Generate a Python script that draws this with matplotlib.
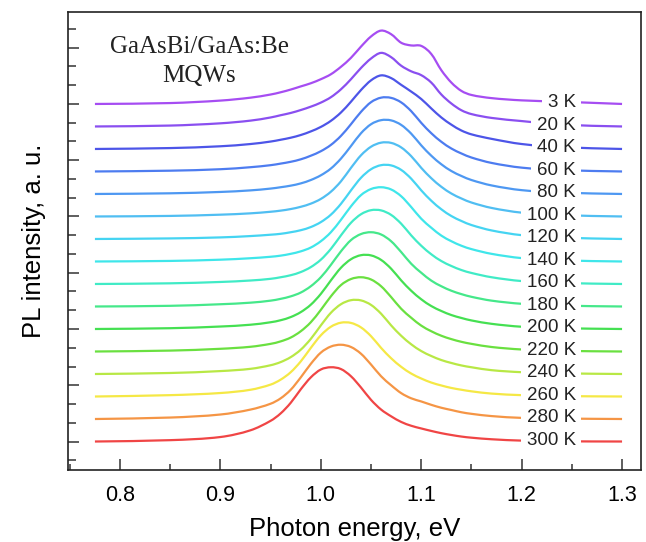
import matplotlib.pyplot as plt
from matplotlib.ticker import MultipleLocator, FormatStrFormatter
from matplotlib.path import Path
from matplotlib.patches import PathPatch

plt.rcParams['font.family'] = ['Liberation Sans', 'DejaVu Sans']

energy = [0.775, 0.85, 0.90, 0.93, 0.95, 0.96, 0.97, 0.98, 0.99, 1.00,
          1.01, 1.02, 1.03, 1.04, 1.05, 1.06, 1.07, 1.08, 1.09, 1.10,
          1.11, 1.12, 1.13, 1.14, 1.15, 1.17, 1.20, 1.24, 1.30]

temperatures = ['3 K', '20 K', '40 K', '60 K', '80 K', '100 K', '120 K', '140 K',
                '160 K', '180 K', '200 K', '220 K', '240 K', '260 K', '280 K', '300 K']

# PL intensity above each curve's own baseline (in units of the vertical shift)
pl_3k = [0.0, 0.04, 0.15, 0.28, 0.42, 0.52, 0.64, 0.78, 0.92, 1.10, 1.32, 1.65, 2.05, 2.55, 3.00,
         3.26, 3.10, 2.72, 2.60, 2.58, 2.22, 1.50, 0.95, 0.58, 0.40, 0.26, 0.16, 0.10, 0.0]
pl_20k = [0.0, 0.04, 0.14, 0.26, 0.40, 0.50, 0.60, 0.73, 0.88, 1.06, 1.30, 1.65, 2.10, 2.60, 3.02,
          3.27, 3.08, 2.70, 2.45, 2.28, 1.95, 1.42, 1.02, 0.72, 0.55, 0.38, 0.24, 0.08, 0.0]
pl_40k = [0.0, 0.04, 0.12, 0.22, 0.33, 0.41, 0.50, 0.62, 0.78, 0.98, 1.25, 1.62, 2.10, 2.62, 3.05,
          3.27, 3.15, 2.85, 2.55, 2.22, 1.80, 1.40, 1.08, 0.82, 0.65, 0.45, 0.22, 0.08, 0.0]
pl_60k = [0.0, 0.035, 0.10, 0.19, 0.28, 0.35, 0.43, 0.54, 0.70, 0.90, 1.18, 1.58, 2.10, 2.65, 3.08,
          3.28, 3.27, 3.07, 2.68, 2.16, 1.70, 1.32, 1.02, 0.80, 0.62, 0.38, 0.17, 0.06, 0.0]
pl_80k = [0.0, 0.03, 0.09, 0.16, 0.24, 0.30, 0.37, 0.47, 0.62, 0.83, 1.13, 1.57, 2.13, 2.70, 3.10,
          3.28, 3.27, 3.07, 2.68, 2.16, 1.70, 1.32, 1.02, 0.80, 0.62, 0.38, 0.17, 0.06, 0.0]
pl_100k = [0.0, 0.025, 0.08, 0.14, 0.21, 0.26, 0.33, 0.43, 0.57, 0.78, 1.10, 1.56, 2.16, 2.72, 3.10,
           3.28, 3.27, 3.07, 2.68, 2.16, 1.70, 1.32, 1.02, 0.80, 0.62, 0.38, 0.17, 0.06, 0.0]
pl_120k = [0.0, 0.025, 0.07, 0.13, 0.19, 0.23, 0.30, 0.39, 0.53, 0.75, 1.08, 1.56, 2.16, 2.72, 3.10,
           3.28, 3.27, 3.07, 2.68, 2.16, 1.70, 1.32, 1.02, 0.80, 0.62, 0.38, 0.17, 0.06, 0.0]
pl_140k = [0.0, 0.025, 0.08, 0.145, 0.21, 0.26, 0.34, 0.45, 0.62, 0.90, 1.30, 1.85, 2.45, 2.95, 3.22,
           3.30, 3.20, 2.90, 2.42, 1.90, 1.50, 1.15, 0.90, 0.70, 0.55, 0.34, 0.15, 0.05, 0.0]
pl_160k = [0.0, 0.03, 0.09, 0.155, 0.23, 0.30, 0.39, 0.53, 0.75, 1.08, 1.56, 2.16, 2.72, 3.10, 3.28,
           3.27, 3.07, 2.68, 2.16, 1.70, 1.32, 1.02, 0.80, 0.62, 0.49, 0.30, 0.13, 0.045, 0.0]
pl_180k = [0.0, 0.03, 0.10, 0.17, 0.26, 0.34, 0.45, 0.62, 0.90, 1.30, 1.85, 2.45, 2.95, 3.22, 3.30,
           3.20, 2.90, 2.42, 1.90, 1.50, 1.15, 0.90, 0.70, 0.55, 0.43, 0.26, 0.12, 0.04, 0.0]
pl_200k = [0.0, 0.035, 0.11, 0.19, 0.30, 0.39, 0.53, 0.75, 1.08, 1.56, 2.16, 2.72, 3.10, 3.28, 3.27,
           3.07, 2.68, 2.16, 1.70, 1.32, 1.02, 0.80, 0.62, 0.49, 0.38, 0.23, 0.10, 0.035, 0.0]
pl_220k = [0.0, 0.04, 0.12, 0.21, 0.34, 0.45, 0.62, 0.90, 1.30, 1.85, 2.45, 2.95, 3.22, 3.30, 3.20,
           2.90, 2.42, 1.90, 1.50, 1.15, 0.90, 0.70, 0.55, 0.43, 0.34, 0.20, 0.09, 0.03, 0.0]
pl_240k = [0.0, 0.045, 0.13, 0.23, 0.39, 0.53, 0.75, 1.08, 1.56, 2.16, 2.72, 3.10, 3.28, 3.27, 3.07,
           2.68, 2.16, 1.70, 1.32, 1.02, 0.80, 0.62, 0.49, 0.38, 0.30, 0.17, 0.08, 0.03, 0.0]
pl_260k = [0.0, 0.06, 0.155, 0.30, 0.53, 0.75, 1.08, 1.56, 2.16, 2.72, 3.10, 3.28, 3.27, 3.07, 2.68,
           2.16, 1.70, 1.32, 1.02, 0.80, 0.62, 0.49, 0.38, 0.30, 0.23, 0.13, 0.06, 0.02, 0.0]
pl_280k = [0.0, 0.065, 0.20, 0.42, 0.68, 0.92, 1.30, 1.85, 2.45, 2.95, 3.22, 3.30, 3.20, 2.90, 2.42,
           1.90, 1.50, 1.15, 0.92, 0.78, 0.63, 0.50, 0.40, 0.30, 0.23, 0.13, 0.05, 0.02, 0.0]
pl_300k = [0.0, 0.06, 0.20, 0.50, 0.92, 1.25, 1.72, 2.32, 2.85, 3.20, 3.30, 3.22, 2.90, 2.40, 1.85,
           1.42, 1.12, 0.87, 0.70, 0.58, 0.47, 0.37, 0.29, 0.22, 0.17, 0.10, 0.04, 0.01, 0.0]

spectra = [pl_3k, pl_20k, pl_40k, pl_60k, pl_80k, pl_100k, pl_120k, pl_140k,
           pl_160k, pl_180k, pl_200k, pl_220k, pl_240k, pl_260k, pl_280k, pl_300k]

colors = ['#A64DF2', '#8A4FF0', '#4D55E8', '#4D7CF0', '#4E98F2', '#50BEF2', '#45D4F2', '#3FE6EA',
          '#40EBC6', '#45E88A', '#45E052', '#6AE040', '#B8E845', '#F5E845', '#F59545', '#F04545']


def smooth_path(x, y):
    # smooth (Bezier) line through the read points, like Origin's spline connector
    n = len(x)
    slopes = []
    for i in range(n):
        a, b = max(i - 1, 0), min(i + 1, n - 1)
        slopes.append((y[b] - y[a]) / (x[b] - x[a]))
    verts = [(x[0], y[0])]
    codes = [Path.MOVETO]
    for i in range(n - 1):
        h = x[i + 1] - x[i]
        verts += [(x[i] + h / 3, y[i] + slopes[i] * h / 3),
                  (x[i + 1] - h / 3, y[i + 1] - slopes[i + 1] * h / 3),
                  (x[i + 1], y[i + 1])]
        codes += [Path.CURVE4] * 3
    return Path(verts, codes)


fig, ax = plt.subplots(figsize=(6.46, 5.42), dpi=100)
fig.subplots_adjust(left=0.1053, right=0.9923, bottom=0.1328, top=0.978)

n = len(spectra)
for i, (label, pl, c) in enumerate(zip(temperatures, spectra, colors)):
    shift = n - 1 - i
    ys = [shift + v for v in pl]
    ax.add_patch(PathPatch(smooth_path(energy, ys), fill=False, edgecolor=c, lw=1.6,
                           joinstyle='round', capstyle='butt'))
    ax.text(1.254, shift + 0.05, label, ha='right', va='center', fontsize=13.5,
            color='#222222', zorder=4,
            bbox=dict(boxstyle='square,pad=0.3', fc='white', ec='none'))

ax.text(0.8787, 16.89, 'GaAsBi/GaAs:Be\nMQWs', ha='center', va='center',
        fontsize=18, family='Liberation Serif', color='#222222', linespacing=1.4)

ax.set_xlim(0.7482, 1.3189)
ax.set_ylim(-1.267, 19.09)

ax.xaxis.set_major_locator(MultipleLocator(0.1))
ax.xaxis.set_minor_locator(MultipleLocator(0.05))
ax.xaxis.set_major_formatter(FormatStrFormatter('%.1f'))
ax.yaxis.set_major_locator(MultipleLocator(2.5))
ax.yaxis.set_minor_locator(MultipleLocator(2.5 / 3))

ax.tick_params(which='both', direction='in', top=False, right=False,
               labelleft=False, width=1.1, color='#333333')
ax.tick_params(axis='x', which='major', length=8, labelsize=15.5, pad=11)
ax.tick_params(axis='x', which='minor', length=4)
ax.tick_params(axis='y', which='major', length=8)
ax.tick_params(axis='y', which='minor', length=6)

for s in ax.spines.values():
    s.set_linewidth(1.2)
    s.set_color('#222222')

ax.set_xlabel('Photon energy, eV', fontsize=18.5, labelpad=8)
ax.set_ylabel('PL intensity, a. u.', fontsize=18.5, labelpad=16)

fig.savefig('out.png', dpi=100)
